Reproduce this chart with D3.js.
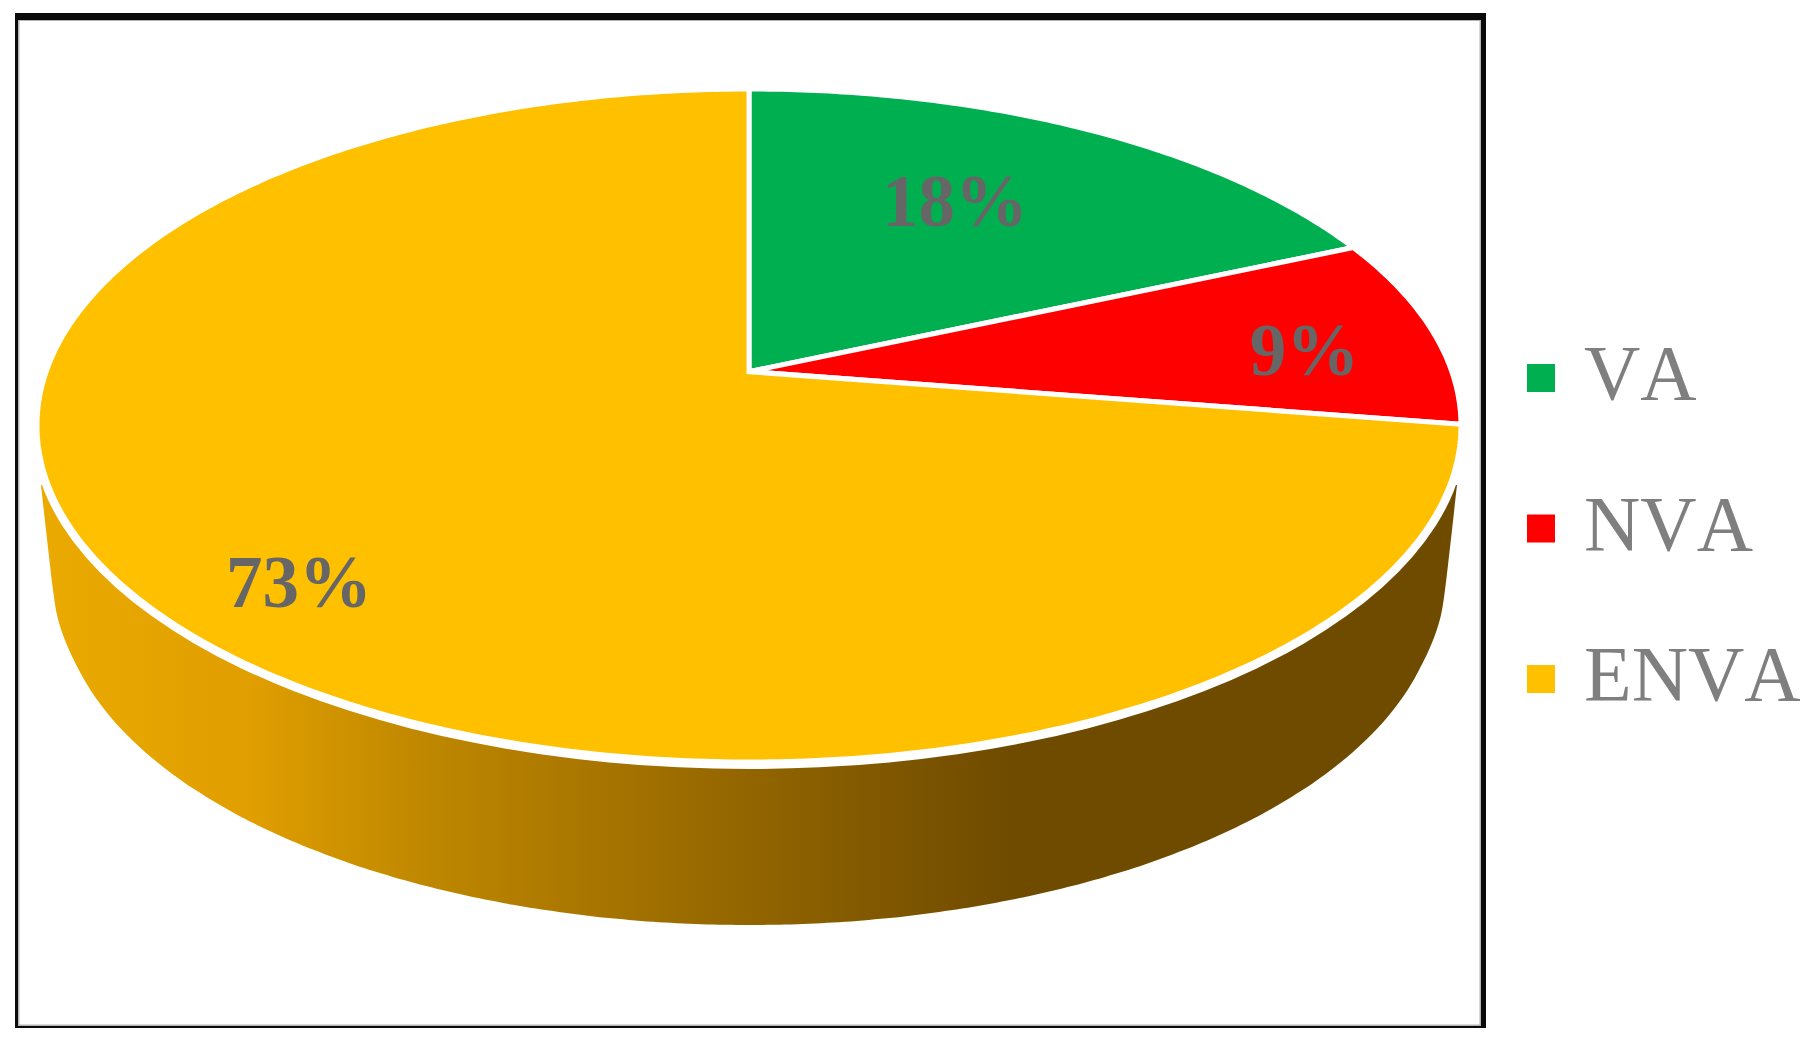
<!DOCTYPE html>
<html lang="en">
<head>
  <meta charset="UTF-8">
  <title>VA / NVA / ENVA pie</title>
  <script src="https://d3js.org/d3.v7.min.js"></script>
  <style>
    html, body { margin: 0; background: #fff; }
    svg { display: block; }
    text { font-family: "Liberation Serif", serif; }
    .legend text { font-size: 78px; fill: #7f7f7f; }
    .label { font-size: 73px; font-weight: bold; fill: #666; text-anchor: middle; }
  </style>
</head>
<body>
  <svg width="1814" height="1044"></svg>

  <script>
    // values, the labels round them
    const categories = ["VA", "NVA", "ENVA"];
    const shares = [18.4, 9.1, 72.5];
    const colors = ["#00B050", "#FF0000", "#FFC000"];

    const svg = d3.select("svg");

    // frame
    svg.selectAll("rect.frame")
        .data([
          { x0: 15, y0: 13, x1: 1486, y1: 1028, c: "#0a0a0a" },
          { x0: 18, y0: 20, x1: 1481, y1: 1026, c: "#b4b4b4" },
          { x0: 19.5, y0: 21, x1: 1479.5, y1: 1024.5, c: "#fff" }
        ])
        .enter().append("rect")
        .attr("class", "frame")
        .attr("x", d => d.x0).attr("y", d => d.y0)
        .attr("width", d => d.x1 - d.x0).attr("height", d => d.y1 - d.y0)
        .attr("fill", d => d.c);

    // top face ellipse, unit disc coordinates go through these
    const x = d3.scaleLinear().domain([-1, 1]).range([37, 1461]);
    const y = d3.scaleLinear().domain([-1, 1]).range([89, 762]);
    // bottom rim of the wall
    const xRim = d3.scaleLinear().domain([-1, 1]).range([59, 1439]);
    const yRim = d3.scaleLinear().domain([-1, 1]).range([255, 925]);

    // perspective: pulls the centre of the disc up, the rim stays on the ellipse
    const tilt = -0.16;
    function project(angle, r) {
      const u = r * Math.sin(angle);
      const v = -r * Math.cos(angle);
      const den = 1 + tilt * v;
      return [x(u * Math.sqrt(1 - tilt * tilt) / den), y((v + tilt) / den)];
    }

    const line = d3.line();
    const pie = d3.pie().sort(null);
    const arcs = pie(shares);

    // wall
    const defs = svg.append("defs");
    const grad = defs.append("linearGradient")
        .attr("id", "wall")
        .attr("gradientUnits", "userSpaceOnUse")
        .attr("x1", 41).attr("x2", 1010)
        .attr("y1", 0).attr("y2", 0);
    grad.selectAll("stop")
        .data([[0, "#ebaa00"], [0.216, "#e09e00"], [0.39, "#c08800"], [0.71, "#956700"], [1, "#6f4b00"]])
        .enter().append("stop")
        .attr("offset", d => d[0])
        .attr("stop-color", d => d[1]);

    const rimPoints = d3.range(14, 167, 1).map(a => {
      const t = a * Math.PI / 180;
      return [xRim(Math.cos(t)), yRim(Math.sin(t))];
    });
    // side edges of the wall, half width at each height
    const sideEdge = [[708, 485], [703, 530], [699, 565], [696, 590], [692, 615], [686, 635], [679, 652]];
    const rightSide = sideEdge.map(d => [x(0) + d[0], d[1]]);
    const leftSide = sideEdge.map(d => [x(0) - d[0], d[1]]).reverse();
    svg.append("path")
        .attr("d", d3.line().curve(d3.curveCatmullRom)(
          [...rightSide, ...rimPoints, ...leftSide]) + "Z")
        .attr("fill", "url(#wall)");

    // white band between wall and top face
    svg.append("ellipse")
        .attr("cx", x(0)).attr("cy", y(0))
        .attr("rx", 718).attr("ry", 343.5)
        .attr("fill", "#fff");

    // slices
    svg.selectAll("path.slice")
        .data(arcs)
        .enter().append("path")
        .attr("class", "slice")
        .attr("d", d => {
          const n = Math.ceil((d.endAngle - d.startAngle) * 90);
          const rim = d3.range(n + 1).map(i =>
            project(d.startAngle + (d.endAngle - d.startAngle) * i / n, 1));
          return line([project(0, 0), ...rim]) + "Z";
        })
        .attr("fill", (d, i) => colors[i])
        .attr("stroke", "#fff")
        .attr("stroke-width", 5)
        .attr("stroke-linejoin", "miter");

    // data labels, centroid plus a nudge for where the chart put them
    const labelNudge = [[-23.5, 18.5], [108.5, 30], [-77.5, 87]];
    svg.selectAll("text.label")
        .data(arcs)
        .enter().append("text")
        .attr("class", "label")
        .attr("x", (d, i) => project((d.startAngle + d.endAngle) / 2, 0.65)[0] + labelNudge[i][0])
        .attr("y", (d, i) => project((d.startAngle + d.endAngle) / 2, 0.65)[1] + labelNudge[i][1])
        .text(d => Math.round(d.value) + "%");

    // legend
    const legendY = d3.scalePoint().domain(categories).range([399, 700]);
    const legend = svg.append("g").attr("class", "legend")
        .selectAll("g")
        .data(categories)
        .enter().append("g")
        .attr("transform", d => `translate(0,${legendY(d)})`);

    legend.append("rect")
        .attr("x", 1527).attr("y", -35)
        .attr("width", 28).attr("height", 28)
        .attr("fill", (d, i) => colors[i]);

    // the reference has no kerning in VA, so place the letters one by one
    legend.append("text")
        .each(function(d) {
          const text = d3.select(this);
          let pos = 1584;
          d.split("").forEach(ch => {
            const t = text.append("tspan").attr("x", pos).text(ch);
            pos += t.node().getComputedTextLength();
          });
        });
  </script>
</body>
</html>
